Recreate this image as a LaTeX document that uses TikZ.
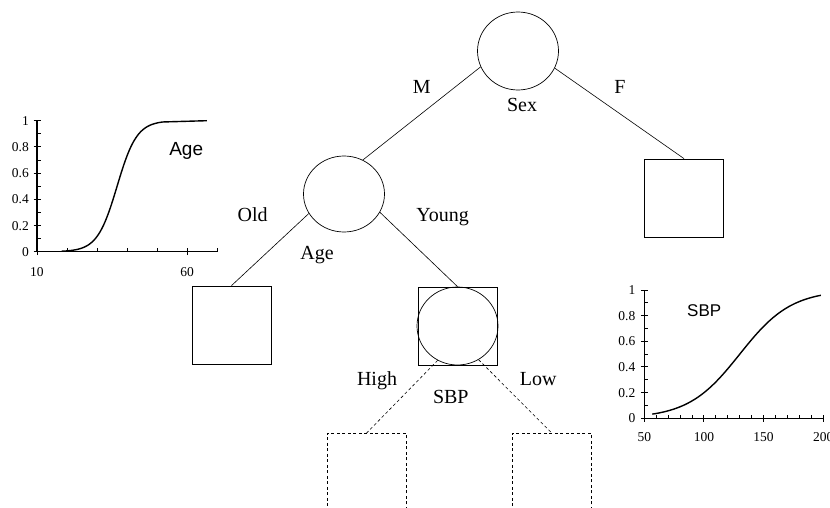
\documentclass[tikz,border=0pt]{standalone}
\usepackage{fontspec}
\setmainfont{Liberation Serif}
\newfontfamily\plotsans{Liberation Sans}
\usetikzlibrary{shapes.geometric}
\begin{document}
\begin{tikzpicture}[x=1pt,y=-1pt,
  chance/.style={draw, ellipse, minimum width=81pt, minimum height=78pt, inner sep=0pt, line width=0.7pt},
  leaf/.style={draw, rectangle, minimum width=79pt, minimum height=78pt, inner sep=0pt, line width=0.8pt},
  openleaf/.style={draw, rectangle, dash pattern=on 3pt off 2.5pt, minimum width=79pt, minimum height=80pt, inner sep=0pt, line width=0.7pt},
  edge/.style={line width=0.6pt},
  dashedge/.style={line width=0.6pt, dash pattern=on 3pt off 2.5pt},
  lbl/.style={anchor=base, inner sep=0pt, font=\fontsize{20}{24}\selectfont},
  axisline/.style={line width=1.1pt},
  cdf/.style={line width=1.4pt, line join=round},
  tickmark/.style={line width=1pt},
  ticklbl/.style={inner sep=0pt, font=\fontsize{13.5}{16}\selectfont},
  plotlbl/.style={anchor=base, inner sep=0pt}]
\useasboundingbox (0,0) rectangle (830,508);

% ---------------- tree ----------------
\node[chance] (sex) at (518,51) {};
\node[chance, minimum height=76pt] (age) at (344,194) {};
\node[leaf] (fleaf) at (684,198) {};
\node[leaf] (oldleaf) at (231.5,325) {};
\node[leaf] (sbpbox) at (457.5,326) {};
\node[chance] (sbp) at (457.5,326) {};
\node[openleaf] (highleaf) at (366.7,473.3) {};
\node[openleaf] (lowleaf) at (551.7,473.3) {};

\draw[edge] (sex.203) -- (age.61);
\draw[edge] (sex.335) -- (fleaf.north);
\draw[edge] (age.209) -- (oldleaf.north);
\draw[edge] (age.333) -- (sbpbox.north);
\draw[dashedge] (sbp.240) -- (highleaf.north);
\draw[dashedge] (sbp.302) -- (lowleaf.north);

\node[lbl] (mlab) at (421.7,93.3) {M};
\node[lbl] (flab) at (620,93.3) {F};
\node[lbl] (sexlab) at (522,111.7) {Sex};
\node[lbl] (oldlab) at (252.7,221.7) {Old};
\node[lbl] (younglab) at (442.7,221.7) {Young};
\node[lbl] (agelab) at (317,259) {Age};
\node[lbl] (highlab) at (377,385) {High};
\node[lbl] (lowlab) at (538.3,385) {Low};
\node[lbl] (sbplab) at (450.8,403.3) {SBP};

% ---------------- Age CDF ----------------
\begin{scope}[shift={(37,251.7)}, x=3pt, y=131pt]
  \draw[axisline] (0,1) -- (0,0) -- (60,0);
  \foreach \t in {0,0.2,0.4,0.6,0.8,1}
    \draw[tickmark] (-3.5pt,0) ++(0,\t) -- ++(7pt,0pt);
  \foreach \t in {0.1,0.3,0.5,0.7,0.9}
    \draw[tickmark] (0,\t) -- ++(3.5pt,0pt);
  \foreach \u in {0,50}
    \draw[tickmark] (\u,0) ++(0pt,-3.5pt) -- ++(0pt,7pt);
  \foreach \u in {10,20,30,40,60}
    \draw[tickmark] (\u,0) -- ++(0pt,3.5pt);
  \foreach \t/\s [count=\i] in {0/0,0.2/0.2,0.4/0.4,0.6/0.6,0.8/0.8,1/1}
    \node[ticklbl, anchor=base east, xshift=-8pt, yshift=-4.5pt] (ay\i) at (0,\t) {\s};
  \node[ticklbl, anchor=base, yshift=-24.3pt] (ax1) at (0,0) {10};
  \node[ticklbl, anchor=base, yshift=-24.3pt] (ax2) at (50,0) {60};
  \draw[cdf] plot[domain=8.2:42, samples=90] (\x, {1/(1+exp(-(\x+10-36.7)/3.3))}) -- (56.6,1);
\end{scope}
\node[plotlbl, font=\plotsans\fontsize{19}{22}\selectfont] (agetitle) at (186.2,156) {Age};

% ---------------- SBP CDF ----------------
\begin{scope}[shift={(644.3,418.3)}, x=1.193pt, y=128.3pt]
  \draw[axisline] (0,1) -- (0,0) -- (151,0);
  \foreach \t in {0,0.2,0.4,0.6,0.8,1}
    \draw[tickmark] (-3.5pt,0) ++(0,\t) -- ++(7pt,0pt);
  \foreach \t in {0.1,0.3,0.5,0.7,0.9}
    \draw[tickmark] (0,\t) -- ++(3.5pt,0pt);
  \foreach \u in {0,50,100,150}
    \draw[tickmark] (\u,0) ++(0pt,-3.5pt) -- ++(0pt,7pt);
  \foreach \u in {10,20,30,40,60,70,80,90,110,120,130,140}
    \draw[tickmark] (\u,0) -- ++(0pt,3.5pt);
  \foreach \t/\s [count=\i] in {0/0,0.2/0.2,0.4/0.4,0.6/0.6,0.8/0.8,1/1}
    \node[ticklbl, anchor=base east, xshift=-8.8pt, yshift=-4.5pt] (sy\i) at (0,\t) {\s};
  \foreach \u/\s [count=\i] in {0/50,50/100,100/150,150/200}
    \node[ticklbl, anchor=base, yshift=-23.4pt] (sx\i) at (\u,0) {\s};
  \draw[cdf] plot[domain=6.7:148, samples=90] (\x, {1/(1+exp(-(\x+50-130)/21.6))});
\end{scope}
\node[plotlbl, font=\plotsans\fontsize{17}{20}\selectfont] (sbptitle) at (704.2,316.7) {SBP};
\end{tikzpicture}
\end{document}
